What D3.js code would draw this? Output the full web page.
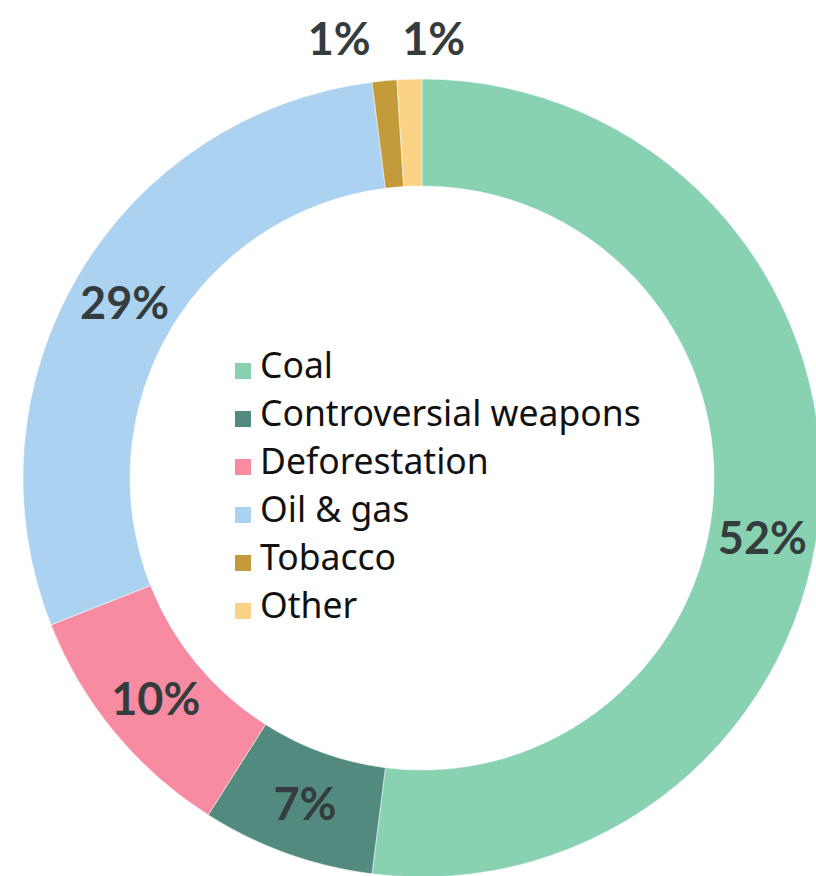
<!DOCTYPE html>
<html>
<head>
<meta charset="utf-8">
<script src="https://cdn.jsdelivr.net/npm/d3@7"></script>
<style>
  body { margin: 0; background: #fff; }
  .pct { font-family: "Lato", "Noto Sans", sans-serif; font-weight: 700; fill: #343c3d; }
  .leg { font-family: "Noto Sans", "Lato", sans-serif; fill: #111; }
</style>
</head>
<body>
<div id="chart"></div>
<script>
// categories and their shares (percent)
var categories = ["Coal", "Controversial weapons", "Deforestation", "Oil & gas", "Tobacco", "Other"];
var shares = [52, 7, 10, 29, 1, 1];
var colors = ["#88d1b1", "#528a7f", "#f78ba2", "#abd2f1", "#c49b3b", "#fbd386"];

var svgWidth = 816;
var svgHeight = 876;

var cx = 422, cy = 478;
var outerR = 399, innerR = 292;

var svg = d3.select("#chart")
  .append("svg")
  .attr("width", svgWidth)
  .attr("height", svgHeight);

var g = svg.append("g")
  .attr("transform", `translate(${cx}, ${cy})`);

var data = categories.map(function (c, i) {
  return { name: c, value: shares[i], color: colors[i] };
});

var pie = d3.pie()
  .sort(null)
  .value(d => d.value);

var arc = d3.arc()
  .innerRadius(innerR)
  .outerRadius(outerR);

var arcs = pie(data);

// slices
g.selectAll("path")
  .data(arcs)
  .enter()
  .append("path")
  .attr("d", arc)
  .attr("fill", d => d.data.color)
  .attr("stroke", "#fff")
  .attr("stroke-width", 0.5);

// labels: inside the ring for big slices, above the ring for tiny ones
var outerLabel = d3.arc().innerRadius(outerR + 40).outerRadius(outerR + 40);
var smallCount = 0;

arcs.forEach(function (d) {
  var txt = g.append("text")
    .attr("class", "pct")
    .attr("font-size", "45px")
    .attr("dominant-baseline", "central")
    .text(d.data.value + "%");

  if (d.data.value >= 3) {
    var c = arc.centroid(d);
    // the big coal label sits a bit lower in the ring
    if (d.index === 0) {
      var mid = (d.startAngle + d.endAngle) / 2 + 0.11;
      var rr = (innerR + outerR) / 2;
      c = [rr * Math.sin(mid), -rr * Math.cos(mid)];
    }
    txt.attr("x", c[0]).attr("y", c[1]).attr("text-anchor", "middle");
  } else {
    var p = outerLabel.centroid(d);
    if (smallCount === 0) {
      txt.attr("x", p[0] - 10).attr("text-anchor", "end");
    } else {
      txt.attr("x", p[0] - 6).attr("text-anchor", "start");
    }
    txt.attr("y", -cy + 38);
    smallCount++;
  }
});

// legend in the hole
var legend = svg.append("g")
  .attr("transform", "translate(235, 363)");

var rowH = 48;

legend.selectAll("rect")
  .data(data)
  .enter()
  .append("rect")
  .attr("x", 0)
  .attr("y", (d, i) => i * rowH)
  .attr("width", 16)
  .attr("height", 16)
  .attr("fill", d => d.color);

legend.selectAll("text")
  .data(data)
  .enter()
  .append("text")
  .attr("class", "leg")
  .attr("x", 25)
  .attr("y", (d, i) => i * rowH + 15)
  .attr("font-size", "35.5px")
  .text(d => d.name);
</script>
</body>
</html>
